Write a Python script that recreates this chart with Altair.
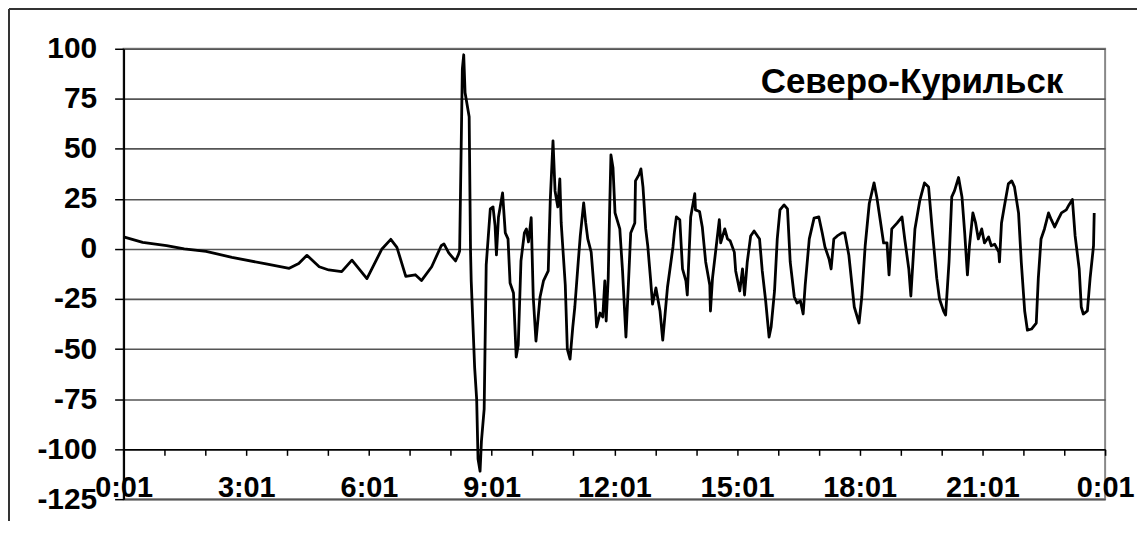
import altair as alt
import pandas as pd

# minutes after 0:01
minutes = [0, 28, 63, 89, 121, 159, 209, 243, 257, 269, 287, 301, 320, 335, 357, 379, 392, 401,
           414, 428, 437, 452, 466, 470, 477, 487, 491, 493, 497, 499, 501, 507, 509, 510, 515,
           518, 520, 523, 525, 529, 532, 538, 542, 545, 547, 550, 556, 560, 564, 567, 572, 576,
           579, 583, 588, 591, 594, 598, 601, 605, 611, 616, 623, 626, 630, 633, 637, 640, 642,
           648, 651, 655, 659, 662, 667, 670, 675, 678, 681, 686, 692, 694, 699, 703, 706, 708,
           711, 713, 715, 718, 721, 728, 732, 737, 741, 744, 750, 751, 756, 759, 762, 766, 769,
           773, 776, 781, 787, 791, 798, 803, 806, 808, 811, 816, 820, 825, 827, 832, 838, 839,
           845, 849, 854, 860, 861, 864, 868, 874, 876, 882, 886, 890, 896, 898, 904, 908, 911,
           915, 920, 925, 933, 937, 942, 947, 950, 955, 959, 963, 969, 974, 978, 984, 988, 993,
           997, 1000, 1006, 1013, 1020, 1025, 1029, 1035, 1038, 1042, 1047, 1054, 1058, 1064,
           1072, 1079, 1083, 1088, 1094, 1101, 1105, 1110, 1115, 1120, 1123, 1127, 1135, 1142,
           1146, 1152, 1155, 1161, 1168, 1175, 1181, 1186, 1193, 1197, 1203, 1206, 1211, 1215,
           1219, 1225, 1230, 1234, 1238, 1241, 1246, 1250, 1254, 1259, 1263, 1269, 1273, 1278,
           1284, 1285, 1288, 1292, 1298, 1303, 1307, 1313, 1317, 1322, 1326, 1332, 1339, 1342,
           1346, 1351, 1357, 1361, 1366, 1371, 1376, 1383, 1387, 1392, 1396, 1402, 1405, 1408,
           1414, 1418, 1423, 1424]

# sea level, cm
level = [6, 3.3, 1.7, 0, -1.2, -4.2, -7.5, -9.7, -7.3, -3.2, -8.9, -10.5, -11.3, -5.6, -14.8, 0,
         4.8, 0.8, -13.7, -12.9, -15.8, -8.9, 1.6, 2.5, -2, -6, -3, -1, 90, 97, 78, 66, -1, -16,
         -59, -75, -105, -111, -96, -80, -8, 20, 21, 11.6, -3, 16, 28, 8, 5, -17, -22, -54, -48,
         -6, 8, 10, 3.5, 15.6, -24, -46, -24, -16, -11, 24.5, 54, 29, 21, 35, 13, -18, -50, -55,
         -39, -29, -6.5, 6.5, 23, 13, 5, -1.6, -27.6, -39, -32, -34, -16, -36, -14.6, 18, 47,
         40.6, 18, 10, -11, -44, -14.6, 8, 13, 34, 37, 40, 31, 10, 1.6, -14.6, -27.6, -19.5, -31,
         -45.5, -19, -6.5, 1, 8, 16, 14.6, -10, -16, -23, 16, 27.6, 19.5, 18.7, 11, -6.5, -18,
         -31, -14.6, -3, 14.6, 3, 10, 5, 4, -1.6, -11, -21, -10, -23, -6.5, 6.5, 9, 5, -11, -26,
         -44, -39, -21, 5, 19.5, 22, 20, -6.5, -24, -27, -26, -32.5, -18, 5, 15.4, 16, 8, 1, -5,
         -10, 5, 6.5, 8, 8, -3, -29, -37, -24, 1.6, 22.7, 33, 26, 14.6, 3, 3, -13, 10, 13, 16, 5,
         -10, -23.5, 10, 24, 33, 31, 11, -14.6, -25, -31, -33, -6.5, 26, 29, 35.7, 26, 8, -13,
         1.6, 18, 13, 5, 10, 3, 6, 1.6, 2.4, -1.6, -6.5, 13, 21, 32.5, 34, 31, 18, -6.5, -31,
         -40.6, -40, -37, -14.6, 5, 10, 18, 14.6, 11, 14.6, 18, 19.5, 22, 24.7, 6.5, -10, -29,
         -32.5, -31, -14.6, 1.6, 18]

x_ticks = list(range(0, 1441, 60))
y_ticks = [-125, -100, -75, -50, -25, 0, 25, 50, 75, 100]
station = "Северо-Курильск"

df = pd.DataFrame({"t": minutes, "v": level})

W, H = 985, 452
FONT = "Liberation Sans"

x_axis = alt.Axis(
    values=x_ticks, orient="bottom", offset=-50, grid=False,
    domain=True, domainColor="black", domainWidth=1.5,
    ticks=True, tickSize=6, tickColor="black", tickWidth=1.5,
    labelExpr="datum.value % 180 == 0 ? (floor(datum.value / 60) % 24) + ':01' : ''",
    labelFont=FONT, labelFontWeight="bold", labelFontSize=29, labelColor="black",
    labelBaseline="top", labelPadding=18, labelOverlap=False, labelFlush=False, title=None,
)
y_axis = alt.Axis(
    values=y_ticks, grid=True, gridColor="#555555", gridWidth=1.6,
    domain=True, domainColor="black", domainWidth=2,
    ticks=True, tickSize=9, tickColor="black", tickWidth=1.5,
    labelExpr="'' + datum.value",
    labelFont=FONT, labelFontWeight="bold", labelFontSize=30, labelColor="black",
    labelBaseline="middle", labelPadding=18, labelOverlap=False, labelFlush=False, title=None,
)

line = alt.Chart(df).mark_line(color="black", strokeWidth=2.8, strokeJoin="round").encode(
    x=alt.X("t:Q", scale=alt.Scale(domain=[0, 1440], nice=False, zero=False), axis=x_axis),
    y=alt.Y("v:Q", scale=alt.Scale(domain=[-125, 100], nice=False, zero=False), axis=y_axis),
)

one = pd.DataFrame({"label": [station]})

label = alt.Chart(one).mark_text(
    font=FONT, fontWeight="bold", fontSize=35, color="black",
    align="right", baseline="alphabetic",
).encode(text="label:N", x=alt.value(943), y=alt.value(44))

frame_left = alt.Chart(one).mark_rule(color="#333333", strokeWidth=2, clip=False).encode(
    x=alt.value(-115), y=alt.value(-40), y2=alt.value(H + 40))
frame_top = alt.Chart(one).mark_rule(color="#333333", strokeWidth=2, clip=False).encode(
    x=alt.value(-115), x2=alt.value(W + 40), y=alt.value(-40))

chart = alt.layer(line, label, frame_left, frame_top).properties(
    width=W, height=H,
    padding={"left": 116, "top": 40, "right": 32, "bottom": 21},
    autosize=alt.AutoSizeParams(type="none"),
    background="white",
).configure_view(stroke="#888888", strokeWidth=2)

chart.save("out.html", embed_options={"renderer": "svg", "actions": False})
